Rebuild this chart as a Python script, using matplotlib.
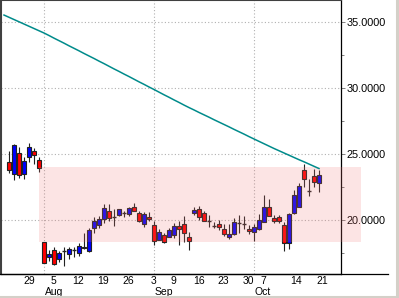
import matplotlib
matplotlib.use("Agg")
import matplotlib.pyplot as plt
from matplotlib.patches import Rectangle
from matplotlib.lines import Line2D
import matplotlib.transforms as mtransforms

plt.rcParams['font.family'] = ['Liberation Sans', 'DejaVu Sans']

# ---- data (trading-day slots; slot 0 = Jul 29) ----
slots = list(range(-4, 59))
opens = [24.37, 23.46, 25.05, 23.46, 24.80, 25.23, 24.52, 18.31, 17.17, 17.73,
         17.02, 17.70, 17.40, 17.75, 17.52, 17.98, 17.65, 19.37, 19.65, 20.05,
         20.68, 20.25, 20.38, 20.52, 20.45, 21.00, 20.55, 19.67, 20.20, 19.62,
         18.48, 18.86, 18.74, 18.86, 19.55, 19.70, 18.69, 20.50, 20.83, 20.50,
         19.94, 19.58, 19.67, 19.32, 18.74, 18.92, 19.80, 19.70, 19.30, 19.07,
         19.30, 19.87, 20.96, 20.13, 20.20, 19.62, 18.28, 20.50, 21.00, 23.79,
         22.23, 23.33, 22.83]
highs = [25.25, 25.76, 25.55, 24.80, 25.86, 25.48, 24.80, 18.35, 17.73, 17.93,
         17.65, 17.98, 17.98, 17.93, 18.23, 19.04, 19.37, 20.20, 20.30, 21.20,
         21.20, 20.80, 20.85, 20.70, 20.96, 21.31, 20.70, 20.63, 20.60, 19.95,
         19.30, 19.04, 19.42, 19.75, 19.92, 20.30, 19.11, 20.95, 21.08, 20.68,
         20.38, 19.82, 20.00, 19.67, 19.67, 20.13, 20.38, 20.30, 19.62, 19.70,
         20.43, 21.90, 21.57, 20.35, 20.35, 19.87, 20.50, 22.27, 22.78, 24.24,
         23.08, 23.84, 23.79]
lows = [23.54, 23.03, 23.20, 23.08, 24.42, 24.22, 23.66, 16.72, 16.89, 16.59,
        16.80, 16.54, 17.02, 17.22, 17.27, 17.80, 17.60, 19.04, 19.37, 19.80,
        19.95, 19.55, 20.30, 20.25, 20.30, 20.65, 19.87, 19.50, 19.95, 18.10,
        18.45, 18.23, 18.70, 18.66, 18.10, 18.36, 17.73, 20.40, 20.00, 19.90,
        19.50, 19.37, 19.24, 18.81, 18.54, 18.88, 19.04, 19.32, 18.94, 18.40,
        19.25, 19.85, 20.30, 19.80, 19.80, 17.67, 17.78, 20.45, 20.95, 22.52,
        21.82, 22.48, 22.14]
closes = [23.81, 25.68, 23.41, 24.47, 25.55, 24.92, 23.92, 16.77, 17.40, 16.64,
          17.48, 17.65, 17.80, 17.73, 18.05, 17.86, 19.24, 19.95, 20.08, 20.89,
          20.13, 20.20, 20.80, 20.50, 20.89, 20.70, 19.95, 20.43, 20.05, 18.43,
          19.07, 18.31, 19.24, 19.55, 19.30, 19.04, 18.43, 20.76, 20.20, 19.95,
          19.92, 19.57, 19.50, 18.92, 18.94, 19.87, 19.79, 19.69, 19.17, 19.45,
          20.00, 20.96, 20.33, 19.95, 19.95, 18.23, 20.45, 21.89, 22.58, 23.08,
          22.21, 22.86, 23.41]

ma_slots = list(range(-5, 59))
ma_values = [35.53, 35.36, 35.19, 35.02, 34.85, 34.68, 34.51, 34.34, 34.17, 33.98,
             33.78, 33.59, 33.40, 33.20, 33.01, 32.82, 32.62, 32.43, 32.24, 32.04,
             31.85, 31.65, 31.45, 31.26, 31.06, 30.87, 30.67, 30.47, 30.28, 30.08,
             29.89, 29.69, 29.49, 29.30, 29.10, 28.91, 28.71, 28.52, 28.34, 28.15,
             27.97, 27.79, 27.60, 27.42, 27.24, 27.06, 26.87, 26.69, 26.51, 26.32,
             26.14, 25.96, 25.78, 25.60, 25.42, 25.25, 25.08, 24.91, 24.74, 24.57,
             24.41, 24.24, 24.07, 23.90]

band_start, band_end = 2, 66.4
band_low, band_high = 18.36, 24.04

xtick_pos = [0, 4.9, 9.9, 14.9, 19.9, 24.9, 28.9, 34, 38.9, 43.9, 46.9, 53.5, 58.7]
xtick_labels = ['29', '5', '12', '19', '26', '3', '9', '16', '23', '30', '7', '14', '21']
month_pos = [3, 25, 45]
month_labels = ['Aug', 'Sep', 'Oct']
week_dots = [0, 5, 10, 15, 20, 29, 34, 39, 49, 54, 59]
yticks = [20, 25, 30, 35]
yminor = [17.5, 22.5, 27.5, 32.5]

# ---- figure ----
W, H = 399, 298
fig = plt.figure(figsize=(W / 100, H / 100), dpi=100)
fig.patch.set_facecolor('white')
ax = fig.add_axes([1 / W, 24 / H, 340 / W, 274 / H])
ax.set_xlim(-5.6, 62.4)
ax.set_ylim(15.91, 36.67)
ax.set_facecolor('white')

for s in ['left', 'top']:
    ax.spines[s].set_color('#404040')
    ax.spines[s].set_linewidth(1.5)
for s in ['right', 'bottom']:
    ax.spines[s].set_color('black')
    ax.spines[s].set_linewidth(0.9)

# grid
dot = (0, (1, 2))
for y in yticks:
    ax.axhline(y, color='#b0b0b0', lw=0.8, ls=dot, zorder=1)
for m in month_pos:
    ax.axvline(m, color='#b0b0b0', lw=0.8, ls=dot, zorder=1)
dx = [x for x in week_dots for _ in yminor]
dy = [y for _ in week_dots for y in yminor]
ax.scatter(dx, dy, s=0.3, marker='s', color='#b8b8b8', linewidths=0, zorder=1)

# candles
edge = '#222222'
for s, o, h, l, c in zip(slots, opens, highs, lows, closes):
    ax.vlines(s, l, h, color=edge, lw=0.8, zorder=2)
    col = '#0000ff' if c > o else '#ff0000'
    lo, hi = min(o, c), max(o, c)
    if hi - lo < 0.06:
        ax.hlines((o + c) / 2, s - 0.45, s + 0.45, color=edge, lw=1.0, zorder=3)
    else:
        ax.add_patch(Rectangle((s - 0.4, lo), 0.8, hi - lo, facecolor=col,
                               edgecolor=edge, lw=0.8, zorder=3))

# band overlay
ax.add_patch(Rectangle((band_start, band_low), band_end - band_start,
                       band_high - band_low, facecolor=(240 / 255, 120 / 255, 120 / 255),
                       alpha=0.2, edgecolor='none', zorder=4, clip_on=False))

# moving average
ax.plot(ma_slots, ma_values, color='#008b8b', lw=1.1, zorder=5)

# y axis on right
ax.yaxis.tick_right()
ax.set_yticks(yticks)
ax.set_yticklabels(['%.4f' % v for v in yticks])
ax.set_yticks(yminor, minor=True)
ax.tick_params(axis='y', which='major', length=3, width=0.7, color='#808080',
               pad=1, labelsize=7.8)
ax.tick_params(axis='y', which='minor', length=2, width=0.7, color='#808080')

# x axis
ax.set_xticks(xtick_pos)
ax.set_xticklabels(xtick_labels)
ax.tick_params(axis='x', length=0, pad=1.6, labelsize=7.5)
ax.xaxis.set_minor_locator(matplotlib.ticker.NullLocator())
trans = mtransforms.blended_transform_factory(ax.transData, ax.transAxes)
for m, lab in zip(month_pos, month_labels):
    ax.text(m + 0.2, -0.064, lab, transform=trans, ha='left', va='center',
            fontsize=7.5)

# frame extras
fig.add_artist(Line2D([0, 388 / W], [24 / H, 24 / H], color='black', lw=0.9,
                      transform=fig.transFigure))
fig.add_artist(Line2D([396.5 / W, 396.5 / W], [0, 1], color='#d4d0c8', lw=2.2,
                      transform=fig.transFigure))
fig.add_artist(Line2D([0, 1], [1.5 / H, 1.5 / H], color='#d4d0c8', lw=2.2,
                      transform=fig.transFigure))

fig.savefig('out.png', dpi=100)
